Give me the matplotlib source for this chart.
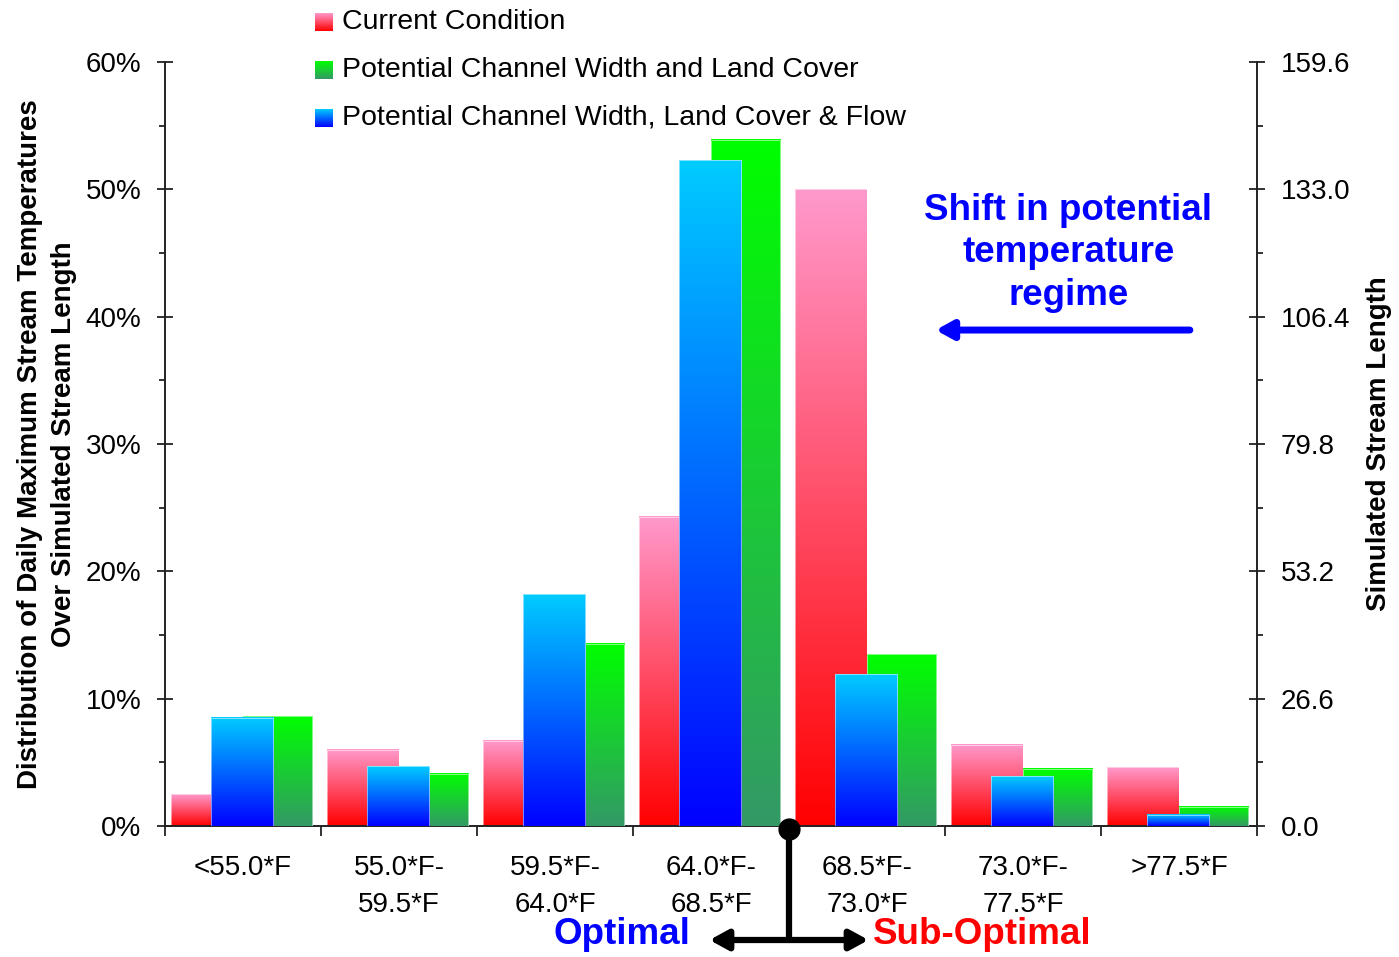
import numpy as np
import matplotlib
matplotlib.use("Agg")
import matplotlib.pyplot as plt
from matplotlib.colors import LinearSegmentedColormap
from matplotlib.ticker import FixedLocator, FuncFormatter, MultipleLocator
from matplotlib.transforms import blended_transform_factory

plt.rcParams['font.family'] = ['Liberation Sans', 'DejaVu Sans']

# ---- data -------------------------------------------------------------
categories = ["<55.0*F", "55.0*F-\n59.5*F", "59.5*F-\n64.0*F", "64.0*F-\n68.5*F",
              "68.5*F-\n73.0*F", "73.0*F-\n77.5*F", ">77.5*F"]
current = [2.5, 6.0, 6.7, 24.3, 50.0, 6.4, 4.6]            # % of stream length
potential_wl = [8.6, 4.1, 14.3, 53.9, 13.5, 4.5, 1.5]     # width + land cover
potential_wlf = [8.5, 4.7, 18.2, 52.3, 11.9, 3.9, 0.9]    # width + land cover + flow
series_names = ["Current Condition",
                "Potential Channel Width and Land Cover",
                "Potential Channel Width, Land Cover & Flow"]
right_max = 159.6
right_step = 26.6

# gradient colour ramps (bottom -> top)
cm_pink = LinearSegmentedColormap.from_list("pink", ["#FF0000", "#FF99CC"])
cm_green = LinearSegmentedColormap.from_list("green", ["#339966", "#00FF00"])
cm_blue = LinearSegmentedColormap.from_list("blue", ["#0000FF", "#00CCFF"])
ramp = np.linspace(1, 0, 256).reshape(-1, 1)

fig = plt.figure(figsize=(13.99, 9.57), dpi=100)
ax = fig.add_axes([165 / 1399, 1 - 826 / 957, (1257 - 165) / 1399, (826 - 62) / 957])

x = np.arange(len(categories))


def gradient_bars(left, width, values, cmap, z):
    bars = ax.bar(x + left, values, width=width, align="edge", color="none",
                  edgecolor="none", zorder=z)
    for p in bars.patches:
        x0, w, h = p.get_x(), p.get_width(), p.get_height()
        ax.imshow(ramp, cmap=cmap, extent=[x0, x0 + w, 0, h], aspect="auto",
                  zorder=z, interpolation="bilinear")
        ax.plot([x0, x0, x0 + w, x0 + w], [0, h, h, 0], color="white",
                lw=0.6, alpha=0.6, zorder=z + 0.1)
    return bars


gradient_bars(0.04, 0.46, current, cm_pink, 2)
gradient_bars(0.50, 0.445, potential_wl, cm_green, 3)
gradient_bars(0.295, 0.40, potential_wlf, cm_blue, 4)

ax.set_xlim(0, len(categories))
ax.set_ylim(0, 60)

# axes styling
for s in ["top", "right"]:
    ax.spines[s].set_visible(False)
for s in ["left", "bottom"]:
    ax.spines[s].set_linewidth(1.4)
    ax.spines[s].set_color("#222222")

ax.yaxis.set_major_locator(MultipleLocator(10))
ax.yaxis.set_minor_locator(MultipleLocator(5))
ax.yaxis.set_major_formatter(FuncFormatter(lambda v, _: f"{v:.0f}%"))
ax.tick_params(axis="y", which="major", direction="inout", length=12, width=1.3,
               labelsize=20, pad=11, color="#222222")
ax.tick_params(axis="y", which="minor", direction="out", length=4.5, width=1.3,
               color="#222222")

ax.xaxis.set_major_locator(FixedLocator(np.arange(len(categories) + 1)))
ax.xaxis.set_major_formatter(FuncFormatter(lambda v, _: ""))
ax.xaxis.set_minor_locator(FixedLocator(x + 0.5))
ax.set_xticklabels(categories, minor=True)
ax.tick_params(axis="x", which="major", direction="out", length=7, width=1.3,
               color="#222222")
ax.tick_params(axis="x", which="minor", length=0, labelsize=20, pad=21)
for t in ax.get_xticklabels(minor=True):
    t.set_linespacing(1.55)

ax.set_ylabel("Distribution of Daily Maximum Stream Temperatures\nOver Simulated Stream Length",
              fontsize=20, fontweight="bold", linespacing=1.4)
ax.yaxis.set_label_coords(-0.0805, 0.5)

# secondary axis: stream length
ax2 = ax.twinx()
ax2.set_ylim(0, right_max)
ax2.yaxis.set_major_locator(FixedLocator(np.arange(0, right_max + 0.01, right_step)))
ax2.yaxis.set_minor_locator(FixedLocator(np.arange(right_step / 2, right_max, right_step)))
ax2.yaxis.set_major_formatter(FuncFormatter(lambda v, _: f"{v:.1f}"))
for s in ["top", "left", "bottom"]:
    ax2.spines[s].set_visible(False)
ax2.spines["right"].set_linewidth(1.4)
ax2.spines["right"].set_color("#222222")
ax2.tick_params(axis="y", which="major", direction="inout", length=12, width=1.3,
                labelsize=20, pad=11, color="#222222")
ax2.tick_params(axis="y", which="minor", direction="out", length=4.5, width=1.3,
                color="#222222")
ax2.set_ylabel("Simulated Stream Length", fontsize=20, fontweight="bold")
ax2.yaxis.set_label_coords(1.10, 0.5)

# legend drawn as gradient swatches with labels
legend_rows = [(cm_pink, series_names[0]), (cm_green, series_names[1]),
               (cm_blue, series_names[2])]
for i, (cm, name) in enumerate(legend_rows):
    yc = 22 + 48 * i
    sw = fig.add_axes([315 / 1399, 1 - (yc + 9) / 957, 18 / 1399, 18 / 957])
    sw.imshow(ramp, cmap=cm, aspect="auto", interpolation="bilinear")
    sw.set_axis_off()
    fig.text(342 / 1399, 1 - yc / 957, name, fontsize=20.5, va="center", ha="left")

# shift annotation
ax.text(5.79, 45.0, "Shift in potential\ntemperature\nregime", color="#0000FF",
        fontsize=26.5, fontweight="bold", ha="center", va="center", linespacing=1.28)
ax.annotate("", xy=(4.94, 38.95), xytext=(6.57, 38.95),
            arrowprops=dict(arrowstyle="-|>,head_length=1.0,head_width=0.55",
                            color="#0000FF", lw=5, shrinkA=0, shrinkB=0))

# optimal / sub-optimal split below the axis
trans = blended_transform_factory(ax.transData, ax.transAxes)
y_arrow = -(940 - 826) / 764
y_words = -(935 - 826) / 764
ax.plot([4, 4], [0, y_arrow], color="black", lw=4.5, transform=trans,
        clip_on=False, zorder=6, solid_capstyle="butt")
ax.plot([4], [-0.004], "o", color="black", ms=15, transform=trans, clip_on=False, zorder=7)
for x_end in (3.49, 4.51):
    ax.annotate("", xy=(x_end, y_arrow), xytext=(4, y_arrow), xycoords=trans,
                textcoords=trans,
                arrowprops=dict(arrowstyle="-|>,head_length=1.1,head_width=0.6",
                                color="black", lw=4.5, shrinkA=0, shrinkB=0),
                annotation_clip=False)
ax.text(3.365, y_words, "Optimal", color="#0000FF", fontsize=26.5, fontweight="bold",
        ha="right", va="center", transform=trans, clip_on=False)
ax.text(4.54, y_words, "Sub-Optimal", color="#FF0000", fontsize=26.5, fontweight="bold",
        ha="left", va="center", transform=trans, clip_on=False)

fig.savefig("out.png", dpi=100)
